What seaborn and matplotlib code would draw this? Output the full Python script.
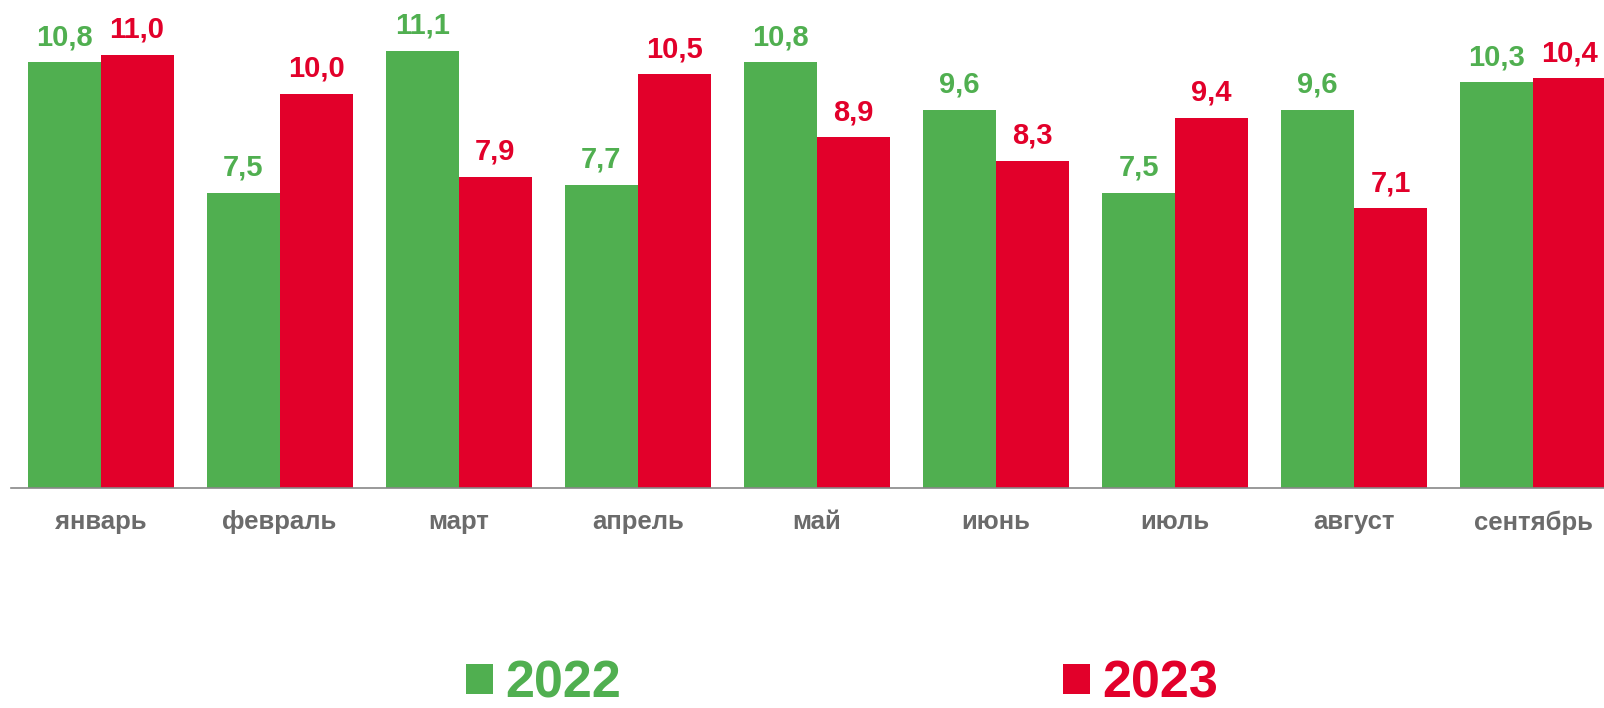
import pandas as pd
import matplotlib
matplotlib.use('Agg')
import matplotlib.pyplot as plt
import seaborn as sns

# data
months = ['январь', 'февраль', 'март', 'апрель', 'май', 'июнь', 'июль', 'август', 'сентябрь']
years = ['2022', '2023']
values_2022 = [10.8, 7.5, 11.1, 7.7, 10.8, 9.6, 7.5, 9.6, 10.3]
values_2023 = [11.0, 10.0, 7.9, 10.5, 8.9, 8.3, 9.4, 7.1, 10.4]

GREEN = '#50AF50'
RED = '#E2002A'
GRAY = '#6B6B6B'

df = pd.DataFrame({
    'month': months * 2,
    'year': [years[0]] * len(months) + [years[1]] * len(months),
    'value': values_2022 + values_2023,
})

sns.set_style('white')
plt.rcParams['font.family'] = ['Liberation Sans', 'DejaVu Sans']

W, H = 1604, 708
fig = plt.figure(figsize=(W / 100, H / 100), dpi=100)
# axes in pixel terms: left 11, baseline at y=488, one category = ~179 px
ax = fig.add_axes([11 / W, (H - 488) / H, 9 * 179.1 / W, 488 / H])

sns.barplot(data=df, x='month', y='value', hue='year', order=months,
            hue_order=years, palette=[GREEN, RED], width=146 / 179,
            saturation=1, gap=0, linewidth=0, ax=ax, legend=True)

ax.set_xlim(-0.5, 8.5)
ax.set_ylim(0, 488 / 39.4)

# value labels above the bars, with comma decimals
for cont, col in zip(ax.containers, [GREEN, RED]):
    labels = [f"{b.get_height():.1f}".replace('.', ',') for b in cont]
    ax.bar_label(cont, labels=labels, padding=8, color=col,
                 fontsize=21, fontweight='bold')

ax.set_xlabel('')
ax.set_ylabel('')
ax.set_yticks([])
for s in ['left', 'top', 'right']:
    ax.spines[s].set_visible(False)
ax.spines['bottom'].set_color('#888888')
ax.spines['bottom'].set_linewidth(1.2)
ax.tick_params(axis='x', length=0, pad=16, labelsize=18.5, labelcolor=GRAY)
for t in ax.get_xticklabels():
    t.set_fontweight('bold')

# legend at the bottom, coloured text
handles, labels = ax.get_legend_handles_labels()
ax.get_legend().remove()
leg = fig.legend(handles, labels, loc='center', bbox_to_anchor=(842 / W, 24 / H),
                 ncol=2, frameon=False, fontsize=37.5, handlelength=0.52,
                 handleheight=0.52, handletextpad=0.23, columnspacing=8.5)
for t, c in zip(leg.get_texts(), [GREEN, RED]):
    t.set_color(c)
    t.set_fontweight('bold')

fig.savefig('out.png', dpi=100)
